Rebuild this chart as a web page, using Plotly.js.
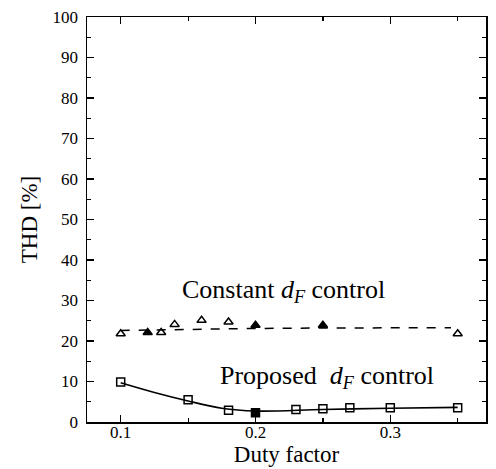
<!DOCTYPE html>
<html>
<head>
<meta charset="utf-8">
<script src="https://cdn.plot.ly/plotly-3.0.1.min.js"></script>
<style>html,body{margin:0;padding:0;background:#fff;}#chart{width:496px;height:469px;}</style>
</head>
<body>
<div id="chart"></div>
<script>
// Constant dF control (triangles)
var constX = [0.1, 0.12, 0.13, 0.14, 0.16, 0.18, 0.2, 0.25, 0.35];
var constY = [21.8, 22.1, 22.1, 24.1, 25.1, 24.7, 23.9, 23.9, 21.8];
// Dashed trend line for constant dF control
var constFitX = [0.1, 0.15, 0.2, 0.25, 0.3, 0.345];
var constFitY = [22.6, 22.9, 23.1, 23.2, 23.2, 23.3];
// Proposed dF control (squares)
var propX = [0.1, 0.15, 0.18, 0.2, 0.23, 0.25, 0.27, 0.3, 0.35];
var propY = [9.9, 5.5, 2.9, 2.3, 3.1, 3.3, 3.5, 3.5, 3.5];
// Solid trend curve for proposed dF control
var propFitX = [0.1, 0.125, 0.15, 0.175, 0.2, 0.25, 0.3, 0.35];
var propFitY = [9.7, 7.3, 5.2, 3.4, 2.7, 3.1, 3.4, 3.6];
// Axis ticks
var xTickVals = [0.1, 0.2, 0.3];
var xTickText = ["0.1", "0.2", "0.3"];
var yTickVals = [0, 10, 20, 30, 40, 50, 60, 70, 80, 90, 100];

var serif = "Liberation Serif, Times New Roman, serif";

var traces = [
  {x: constFitX, y: constFitY, mode: "lines", line: {color: "#000", width: 1.5, dash: "dash"}, hoverinfo: "skip", showlegend: false},
  {x: propFitX, y: propFitY, mode: "lines", line: {color: "#000", width: 1.6, shape: "spline", smoothing: 1}, hoverinfo: "skip", showlegend: false},
  {x: constX, y: constY, mode: "markers", showlegend: false,
   marker: {symbol: ["triangle-up-open","triangle-up","triangle-up-open","triangle-up-open","triangle-up-open","triangle-up-open","triangle-up","triangle-up","triangle-up-open"],
            size: 8, color: "#000", line: {color: "#000", width: 1.5}}},
  {x: propX, y: propY, mode: "markers", showlegend: false,
   marker: {symbol: ["square-open","square-open","square-open","square","square-open","square-open","square-open","square-open","square-open"],
            size: 8, color: "#000", line: {color: "#000", width: 1.5}}}
];

var layout = {
  width: 496, height: 469,
  margin: {l: 87, r: 10, t: 17, b: 47},
  paper_bgcolor: "#fff", plot_bgcolor: "#fff",
  font: {family: serif, color: "#000", size: 17},
  showlegend: false,
  xaxis: {
    range: [0.075, 0.371], tickmode: "array", tickvals: xTickVals, ticktext: xTickText,
    ticks: "inside", ticklen: 7, tickwidth: 1.5, tickcolor: "#000",
    showline: true, linecolor: "#000", linewidth: 1.5, mirror: "ticks",
    showgrid: false, zeroline: false,
    minor: {dtick: 0.05, tick0: 0, ticks: "inside", ticklen: 4, tickwidth: 1.2, tickcolor: "#000", showgrid: false},
    tickfont: {family: serif, size: 17, color: "#000"},
    ticklabelstandoff: -6,
    title: {text: "Duty factor", font: {family: serif, size: 23, color: "#000"}, standoff: 0}
  },
  yaxis: {
    range: [0, 100], tickmode: "array", tickvals: yTickVals,
    ticks: "inside", ticklen: 7, tickwidth: 1.5, tickcolor: "#000",
    showline: true, linecolor: "#000", linewidth: 1.5, mirror: "ticks",
    showgrid: false, zeroline: false,
    minor: {dtick: 5, tick0: 0, ticks: "inside", ticklen: 4, tickwidth: 1.2, tickcolor: "#000", showgrid: false},
    tickfont: {family: serif, size: 17, color: "#000"},
    ticklabelstandoff: 4,
    title: {text: "THD [%]", font: {family: serif, size: 23, color: "#000"}, standoff: 8}
  },
  annotations: [
    {x: 0.221, y: 32.3, xref: "x", yref: "y", text: "Constant <i>d</i><sub><i>F</i></sub> control",
     showarrow: false, font: {family: serif, size: 26, color: "#000"}, xanchor: "center", yanchor: "middle"},
    {x: 0.2533, y: 11.0, xref: "x", yref: "y", text: "Proposed  <i>d</i><sub><i>F</i></sub> control",
     showarrow: false, font: {family: serif, size: 26, color: "#000"}, xanchor: "center", yanchor: "middle"}
  ]
};

Plotly.newPlot("chart", traces, layout, {displayModeBar: false, staticPlot: true});
</script>
</body>
</html>
